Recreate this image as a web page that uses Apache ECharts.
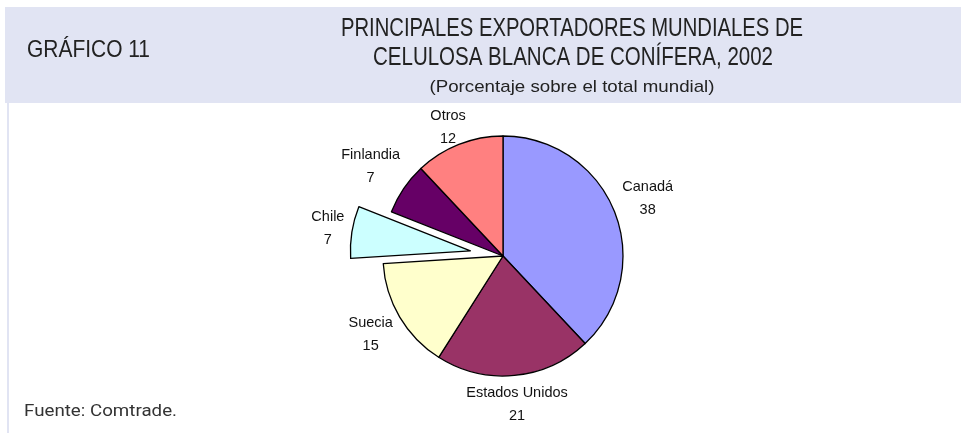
<!DOCTYPE html>
<html>
<head>
<meta charset="utf-8">
<script src="https://cdn.jsdelivr.net/npm/echarts@6/dist/echarts.min.js"></script>
<style>
  html, body { margin: 0; padding: 0; background: #fff; }
  #main { width: 961px; height: 433px; }
</style>
</head>
<body>
<div id="main"></div>
<script>
// Exportadores de celulosa blanca de conífera, 2002 (% del total mundial)
const countries = ['Canadá', 'Estados Unidos', 'Suecia', 'Chile', 'Finlandia', 'Otros'];
const shares = [38, 21, 15, 7, 7, 12];
const colors = ['#9999FF', '#993366', '#FFFFCC', '#CCFFFF', '#660066', '#FF8080'];
const exploded = 'Chile';

// pie geometry
const CX = 503, CY = 256, R = 120, EXPLODE = 33, GAP = 5, PLOT_TOP = 104;

const total = shares.reduce((a, b) => a + b, 0);
const cum = [];
shares.reduce((acc, v, i) => { cum[i] = acc; return acc + v; }, 0);
const bisector = i => {
    const a = (cum[i] + shares[i] / 2) / total * Math.PI * 2;
    return [Math.sin(a), -Math.cos(a)];
};

// exploded slice is drawn by a second pie whose centre is pushed out along its bisector
const ex = countries.indexOf(exploded);
const exCenter = [CX + bisector(ex)[0] * EXPLODE, CY + bisector(ex)[1] * EXPLODE];

// header texts: squeezed horizontally to mimic the narrow face
const ctx = document.createElement('canvas').getContext('2d');
function narrowText(text, font, x, midY, width, align, fill) {
    ctx.font = font;
    const natural = ctx.measureText(text).width;
    return {
        type: 'text',
        x: x, y: midY,
        scaleX: width / natural,
        silent: true,
        style: { text: text, font: font, fill: fill || '#222', align: align || 'center', verticalAlign: 'middle' }
    };
}

// Excel-style: label box pushed out along the slice bisector, kept inside the plot area
function labelLayoutFor(center) {
    return function (p) {
        const [dx, dy] = bisector(p.dataIndex);
        const w = p.labelRect.width, h = p.labelRect.height - 8;
        const r = R + GAP + Math.abs(dx) * w / 2 + Math.abs(dy) * h / 2;
        const y = Math.max(center[1] + dy * r, PLOT_TOP + p.labelRect.height / 2);
        return { x: center[0] + dx * r, y: y, align: 'center', verticalAlign: 'middle' };
    };
}

const hidden = { itemStyle: { color: 'transparent', borderWidth: 0 }, label: { show: false } };

function pieSeries(center, showIndex) {
    return {
        type: 'pie',
        center: center,
        radius: R,
        startAngle: 90,
        clockwise: true,
        silent: true,
        avoidLabelOverlap: false,
        itemStyle: { borderColor: '#000', borderWidth: 1.3 },
        label: {
            show: true,
            position: 'outside',
            formatter: p => p.name + '\n' + p.value,
            fontFamily: '"Liberation Sans", Arial, sans-serif',
            fontSize: 14.5,
            color: '#111',
            lineHeight: 23
        },
        labelLine: { show: false },
        labelLayout: labelLayoutFor(center),
        emphasis: { disabled: true },
        data: countries.map((c, i) => Object.assign(
            { name: c, value: shares[i] },
            showIndex(i) ? { itemStyle: { color: colors[i] } } : hidden
        ))
    };
}

const chart = echarts.init(document.getElementById('main'));

chart.setOption({
    animation: false,
    backgroundColor: '#fff',
    graphic: [
        // header band
        { type: 'rect', shape: { x: 5, y: 7, width: 956, height: 96 }, style: { fill: '#E1E4F3' }, silent: true },
        // left rule
        { type: 'rect', shape: { x: 7, y: 103, width: 2, height: 330 }, style: { fill: '#E1E4F3' }, silent: true },
        narrowText('GRÁFICO 11', '24px "Liberation Sans"', 27, 50, 123, 'left'),
        narrowText('PRINCIPALES EXPORTADORES MUNDIALES DE', '25px "Liberation Sans"', 572, 29, 462),
        narrowText('CELULOSA BLANCA DE CONÍFERA, 2002', '25px "Liberation Sans"', 573, 58.5, 400),
        narrowText('(Porcentaje sobre el total mundial)', '17px "Liberation Sans"', 572, 87, 285),
        narrowText('Fuente: Comtrade.', '17px Roboto', 24, 412, 153, 'left', '#333')
    ],
    series: [
        pieSeries([CX, CY], i => i !== ex),
        pieSeries(exCenter, i => i === ex)
    ]
});
</script>
</body>
</html>
